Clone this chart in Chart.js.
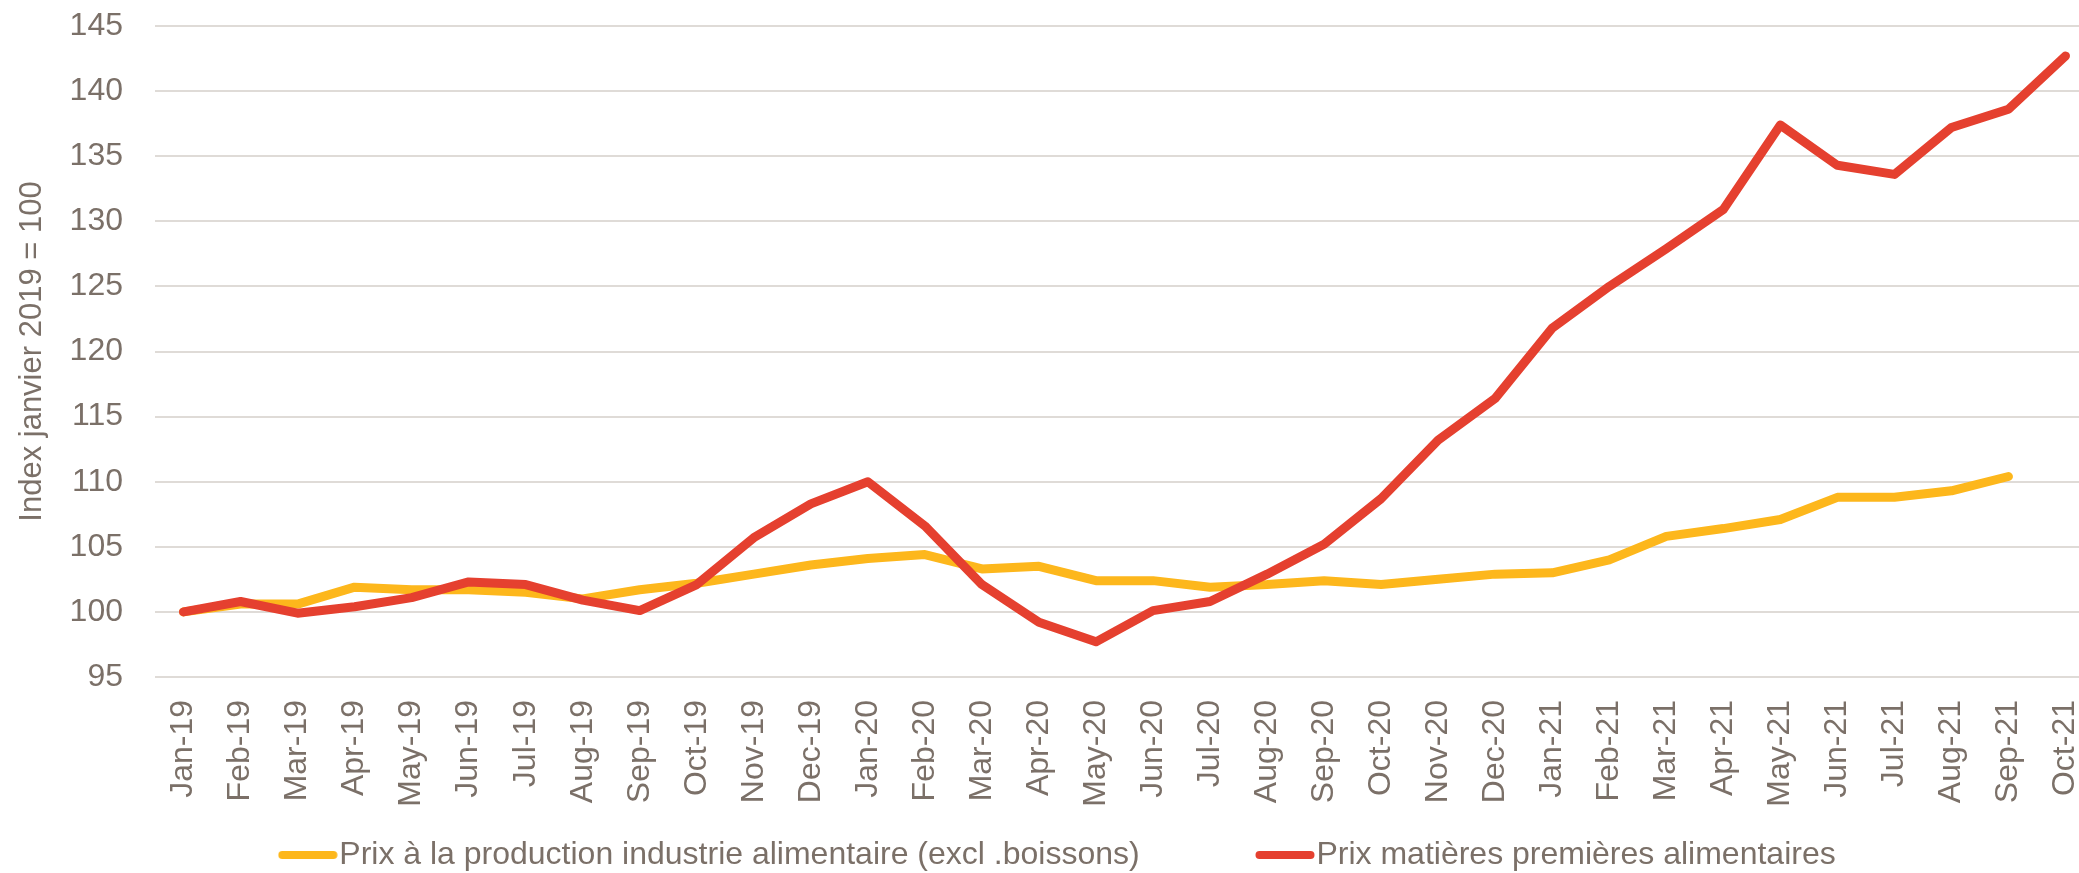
<!DOCTYPE html>
<html>
<head>
<meta charset="utf-8">
<script src="https://cdn.jsdelivr.net/npm/chart.js@4.4.0/dist/chart.umd.min.js"></script>
<style>
  html, body { margin: 0; padding: 0; background: #fff; overflow: hidden; }
  #wrap { position: relative; width: 2094px; height: 881px; }
</style>
</head>
<body>
<div id="wrap"><canvas id="chart"></canvas></div>
<script>
// mois (axe x)
const mois = ['Jan-19','Feb-19','Mar-19','Apr-19','May-19','Jun-19','Jul-19','Aug-19','Sep-19','Oct-19','Nov-19','Dec-19',
              'Jan-20','Feb-20','Mar-20','Apr-20','May-20','Jun-20','Jul-20','Aug-20','Sep-20','Oct-20','Nov-20','Dec-20',
              'Jan-21','Feb-21','Mar-21','Apr-21','May-21','Jun-21','Jul-21','Aug-21','Sep-21','Oct-21'];

// Prix à la production industrie alimentaire (excl .boissons)
const prixProduction = [100, 100.6, 100.6, 101.9, 101.7, 101.7, 101.5, 101.0, 101.7, 102.2, 102.9, 103.6,
                        104.1, 104.4, 103.3, 103.5, 102.4, 102.4, 101.9, 102.1, 102.4, 102.1, 102.5, 102.9,
                        103.0, 104.0, 105.8, 106.4, 107.1, 108.8, 108.8, 109.3, 110.4, null];

// Prix matières premières alimentaires
const prixMatieres = [100, 100.8, 99.9, 100.4, 101.1, 102.3, 102.1, 100.9, 100.1, 102.1, 105.7, 108.3,
                      110.0, 106.6, 102.1, 99.2, 97.7, 100.1, 100.8, 102.9, 105.2, 108.7, 113.2, 116.4,
                      121.8, 125.0, 127.9, 130.9, 137.4, 134.3, 133.6, 137.2, 138.6, 142.7];

const yMin = 95, yMax = 145, yStep = 5;
const titreY = 'Index janvier 2019 = 100';

const gris = '#7b7068';
const jaune = '#fdb71c';
const rouge = '#e5402f';

// petit trait arrondi pour la légende
function traitLegende(couleur) {
    const c = document.createElement('canvas');
    c.width = 60; c.height = 10;
    const g = c.getContext('2d');
    g.strokeStyle = couleur;
    g.lineWidth = 8;
    g.lineCap = 'round';
    g.beginPath();
    g.moveTo(4.5, 5);
    g.lineTo(55.5, 5);
    g.stroke();
    return c;
}

const ctx = document.getElementById('chart').getContext('2d');
new Chart(ctx, {
    type: 'line',
    data: {
        labels: mois,
        datasets: [{
            // espaces en fin de libellé = écart entre les deux entrées de la légende
            label: 'Prix à la production industrie alimentaire (excl .boissons)           ',
            data: prixProduction,
            borderColor: jaune,
            backgroundColor: jaune,
            borderWidth: 9,
            pointRadius: 0,
            borderCapStyle: 'round',
            borderJoinStyle: 'round',
            order: 2
        }, {
            label: 'Prix matières premières alimentaires',
            data: prixMatieres,
            borderColor: rouge,
            backgroundColor: rouge,
            borderWidth: 9,
            pointRadius: 0,
            borderCapStyle: 'round',
            borderJoinStyle: 'round',
            order: 1
        }]
    },
    options: {
        responsive: true,
        maintainAspectRatio: false,
        animation: false,
        layout: { padding: { left: 34, top: 26, right: 0, bottom: 0 } },
        plugins: {
            legend: {
                position: 'bottom',
                labels: {
                    color: gris,
                    font: { family: 'Liberation Sans', size: 32 },
                    usePointStyle: true,
                    pointStyleWidth: 31,
                    boxHeight: 8,
                    padding: 32,
                    sort: (a, b) => a.datasetIndex - b.datasetIndex,
                    generateLabels: function(chart) {
                        const items = Chart.defaults.plugins.legend.labels.generateLabels(chart);
                        return items.map(it => Object.assign(it, {
                            lineWidth: 0,
                            pointStyle: traitLegende(chart.data.datasets[it.datasetIndex].borderColor)
                        }));
                    }
                }
            },
            tooltip: { enabled: false }
        },
        scales: {
            x: {
                offset: true,
                grid: { display: false, drawTicks: false },
                border: { display: false },
                ticks: {
                    color: gris,
                    font: { family: 'Liberation Sans', size: 32 },
                    minRotation: 90,
                    maxRotation: 90,
                    autoSkip: false,
                    padding: 23
                },
                afterFit: function(scale) { scale.height = 130; scale.paddingLeft = 0; scale.paddingRight = 0; }
            },
            y: {
                min: yMin,
                max: yMax,
                grid: { color: '#dfdbd7', lineWidth: 2, drawTicks: false },
                border: { display: false },
                ticks: {
                    stepSize: yStep,
                    color: gris,
                    font: { family: 'Liberation Sans', size: 32 },
                    padding: 32
                },
                title: {
                    display: true,
                    text: titreY,
                    color: gris,
                    font: { family: 'Liberation Sans', size: 31 },
                    padding: { top: -20, bottom: 0 }
                },
                afterFit: function(scale) { scale.width = 121; scale.paddingTop = 0; scale.paddingBottom = 0; }
            }
        }
    }
});
</script>
</body>
</html>
